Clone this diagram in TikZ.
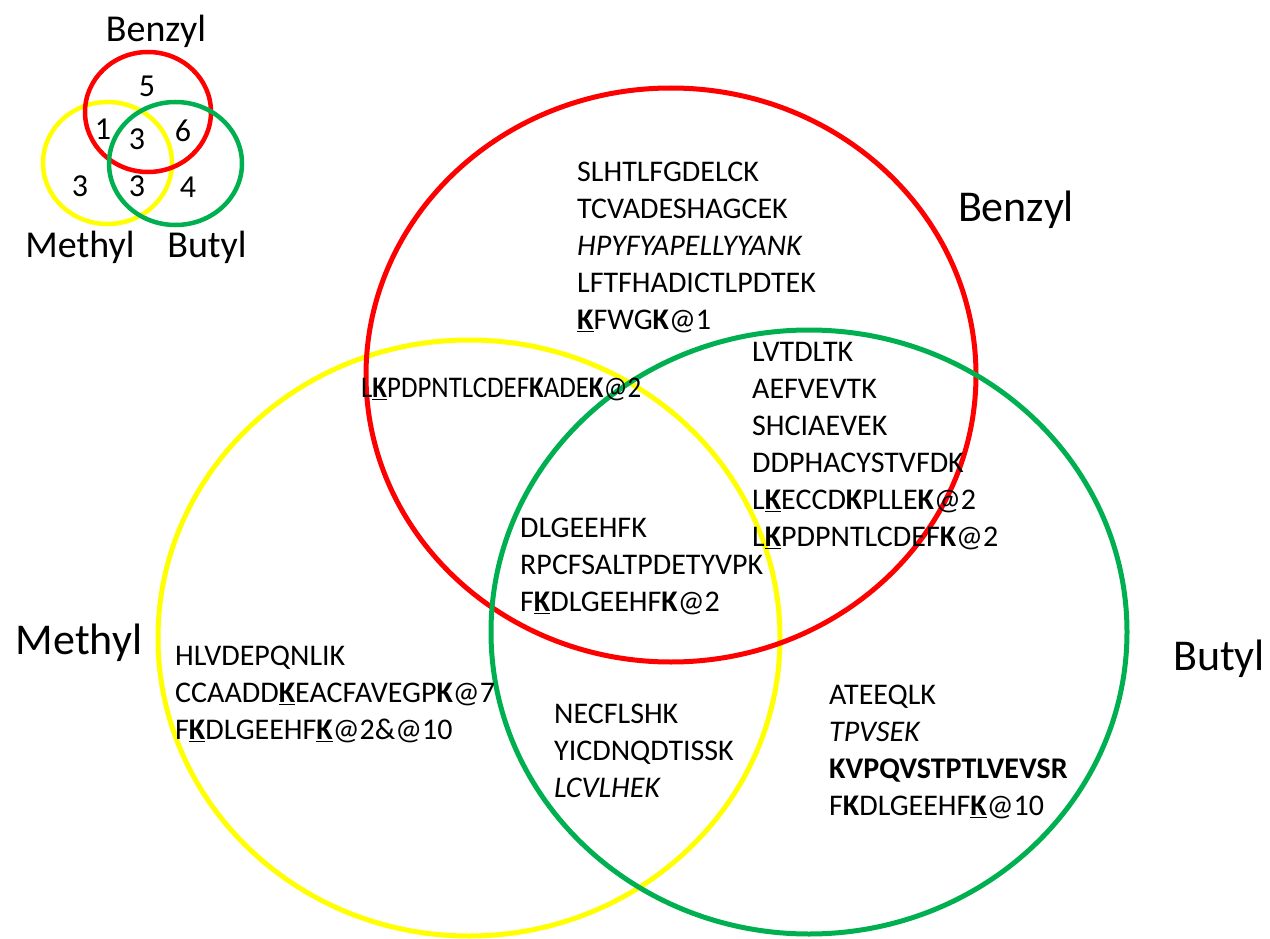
\documentclass[tikz,border=0pt]{standalone}
\usepackage{fontspec}
\usepackage{graphicx}
\setmainfont{Carlito}
\definecolor{vred}{RGB}{255,0,0}
\definecolor{vyellow}{RGB}{255,255,0}
\definecolor{vgreen}{RGB}{0,176,80}
\newcommand{\Kul}{\underline{\textbf{K}}}
\newcommand{\Kbf}{\textbf{K}}
\begin{document}
\begin{tikzpicture}[x=1pt,y=-1pt,
  pep/.style={anchor=north west, inner sep=0pt, align=left, font=\fontsize{30}{37}\selectfont, text=black},
  lab/.style={anchor=base, inner sep=0pt, font=\fontsize{44}{50}\selectfont},
  slab/.style={anchor=base, inner sep=0pt, font=\fontsize{38}{44}\selectfont},
  num/.style={inner sep=0pt, font=\fontsize{32}{36}\selectfont},
  ring/.style={line width=5pt},
  sring/.style={line width=4.5pt}]
\useasboundingbox (0,0) rectangle (1270,939);
% small venn
\draw[sring, vyellow] (107.5,163) ellipse [x radius=64.5pt, y radius=61pt];
\draw[sring, vred] (148,112) ellipse [x radius=63pt, y radius=60pt];
\draw[sring, vgreen] (175.5,163.5) ellipse [x radius=66.5pt, y radius=61.5pt];
\node[slab] (sbz) at (156,42) {Benzyl};
\node[slab] (sme) at (80,257) {Methyl};
\node[slab] (sbu) at (207,257) {Butyl};
\node[num] (n5) at (147,86) {5};
\node[num] (n1) at (103,129) {1};
\node[num] (n3a) at (137,139) {3};
\node[num] (n6) at (183,131) {6};
\node[num] (n3b) at (80,186) {3};
\node[num] (n3c) at (137,186) {3};
\node[num] (n4) at (188,187) {4};
% big venn
\draw[ring, vyellow] (469,638) ellipse [x radius=311pt, y radius=298pt];
\draw[ring, vred] (671,375) ellipse [x radius=305pt, y radius=287pt];
\draw[ring, vgreen] (809,632) ellipse [x radius=318pt, y radius=302pt];
\node[lab] (bbz) at (1016,222) {Benzyl};
\node[lab] (bme) at (79,654) {Methyl};
\node[lab] (bbu) at (1219,670) {Butyl};
% peptides
\node[pep] (pbz) at (577,162) {SLHTLFGDELCK\\TCVADESHAGCEK\\\textit{HPYFYAPELLYYANK}\\LFTFHADICTLPDTEK\\\Kul FWG\Kbf @1};
\node[pep] (pbm) at (361,378) {\scalebox{0.895}[1]{L\Kul PDPNTLCDEF\Kbf ADE\Kbf @2}};
\node[pep] (pbb) at (752,342) {LVTDLTK\\AEFVEVTK\\SHCIAEVEK\\DDPHACYSTVFDK\\L\Kul ECCD\Kbf PLLE\Kbf @2\\L\Kul PDPNTLCDEF\Kbf @2};
\node[pep] (pall) at (520,518) {DLGEEHFK\\RPCFSALTPDETYVPK\\F\Kul DLGEEHF\Kbf @2};
\node[pep] (pme) at (175,646) {HLVDEPQNLIK\\CCAADD\Kul EACFAVEGP\Kbf @7\\F\Kul DLGEEHF\Kul @2\&@10};
\node[pep] (pmb) at (554,704) {NECFLSHK\\YICDNQDTISSK\\\textit{LCVLHEK}};
\node[pep] (pbu) at (829,685) {ATEEQLK\\\textit{TPVSEK}\\\textbf{KVPQVSTPTLVEVSR}\\F\Kbf DLGEEHF\Kul @10};
\end{tikzpicture}
\end{document}
